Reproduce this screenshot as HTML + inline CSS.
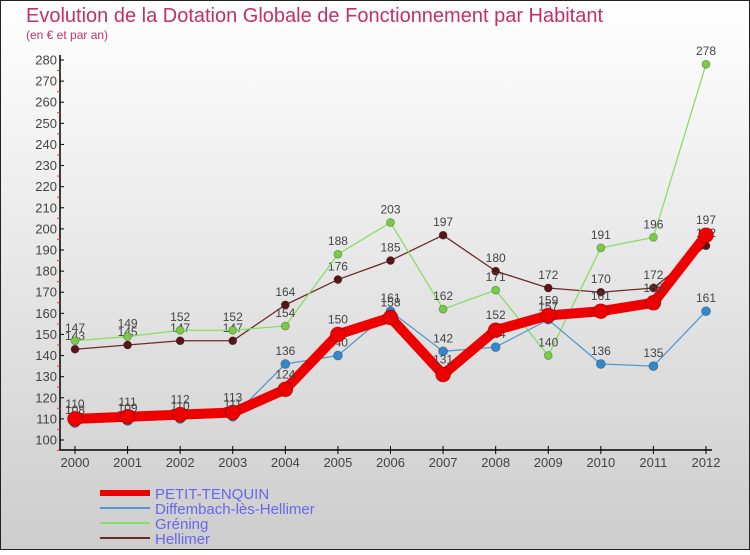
<!DOCTYPE html>
<html><head><meta charset="utf-8"><style>
html,body{margin:0;padding:0}
body{width:750px;height:550px;overflow:hidden;font-family:"Liberation Sans",sans-serif}
</style></head><body>
<svg id="chart" width="750" height="550" xmlns="http://www.w3.org/2000/svg">
<defs><linearGradient id="bg" x1="0" y1="0" x2="0" y2="1"><stop offset="0" stop-color="#ffffff"/><stop offset="1" stop-color="#cdcdcd"/></linearGradient></defs>
<rect x="0.5" y="0.5" width="749" height="549" fill="url(#bg)" stroke="#222" stroke-width="1"/>
<text x="26" y="22" font-size="20" fill="#c0306a">Evolution de la Dotation Globale de Fonctionnement par Habitant</text>
<text x="26" y="39" font-size="12" fill="#c0306a">(en € et par an)</text>
<g id="axes"></g><g id="series"></g><g id="legend"></g>
</svg>
<script>
const years=[2000,2001,2002,2003,2004,2005,2006,2007,2008,2009,2010,2011,2012];
const yTicks=[100,110,120,130,140,150,160,170,180,190,200,210,220,230,240,250,260,270,280];
const petit=[110,111,112,113,124,150,158,131,152,159,161,165,197];
const diffembach=[108,109,110,111,136,140,161,142,144,157,136,135,161];
const grening=[147,149,152,152,154,188,203,162,171,140,191,196,278];
const hellimer=[143,145,147,147,164,176,185,197,180,172,170,172,192];
const NS="http://www.w3.org/2000/svg";
const xs=i=>75+i*(706-75)/12;
const ys=v=>440-(v-100)*(380/180);
function mk(t,a,p){const e=document.createElementNS(NS,t);for(const k in a)e.setAttribute(k,a[k]);p.appendChild(e);return e;}
const ax=document.getElementById('axes');
let l=mk('line',{x1:60,y1:55,x2:60,y2:450,stroke:'#000','stroke-width':1.5},ax);


l=mk('line',{x1:60,y1:450,x2:712,y2:450,stroke:'#000','stroke-width':1.5},ax);


yTicks.forEach(v=>{const y=ys(v);
 mk('line',{x1:60,y1:y,x2:64,y2:y,stroke:'#000'},ax);
 mk('line',{x1:57,y1:y+10.5,x2:60,y2:y+10.5,stroke:'#e33'},ax);
 const t=mk('text',{x:57,y:y+4.5,'font-size':13,fill:'#444','text-anchor':'end'},ax);t.textContent=v;
 
 });
years.forEach((yr,i)=>{const x=xs(i);
 mk('line',{x1:x,y1:446,x2:x,y2:454,stroke:'#000'},ax);
 const t=mk('text',{x:x,y:467,'font-size':13,fill:'#444','text-anchor':'middle'},ax);t.textContent=yr;
 
 });
const series=[
 {name:'Hellimer',data:hellimer,color:'#6e2a2a',dot:'#5a1518',w:1.3,r:4},
 {name:'Gréning',data:grening,color:'#88dd66',dot:'#77cc44',w:1.3,r:4},
 {name:'Diffembach-lès-Hellimer',data:diffembach,color:'#5599cc',dot:'#3388cc',w:1.3,r:4.5},
 {name:'PETIT-TENQUIN',data:petit,color:'#ee0000',dot:'#ee0000',w:10,r:7.5}];
const sg=document.getElementById('series');
series.forEach(s=>{const g=mk('g',{},sg);
 
 
 const p=mk('polyline',{points:s.data.map((v,i)=>xs(i)+','+ys(v)).join(' '),fill:'none',stroke:s.color,'stroke-width':s.w,'stroke-linejoin':'round'},g);
 
 
 s.data.forEach((v,i)=>{const c=mk('circle',{cx:xs(i),cy:ys(v),r:s.r,fill:s.dot,stroke:'rgba(0,0,0,0.3)','stroke-width':0.8},g);
  
  
  const t=mk('text',{x:xs(i),y:ys(v)-(s.r>5?11:9),'font-size':12,fill:'#444','text-anchor':'middle'},g);t.textContent=v;
  
  });});
const lg=document.getElementById('legend');
const order=[series[3],series[2],series[1],series[0]];
order.forEach((s,k)=>{const y=493+k*15;
 const g=mk('g',{},lg);
 
 
 mk('line',{x1:100,y1:y,x2:150,y2:y,stroke:s.color,'stroke-width':s.w>5?6:2},g);
 const t=mk('text',{x:155,y:y+6,'font-size':15,fill:'#6666ee'},g);t.textContent=s.name;});
</script>
</body></html>
